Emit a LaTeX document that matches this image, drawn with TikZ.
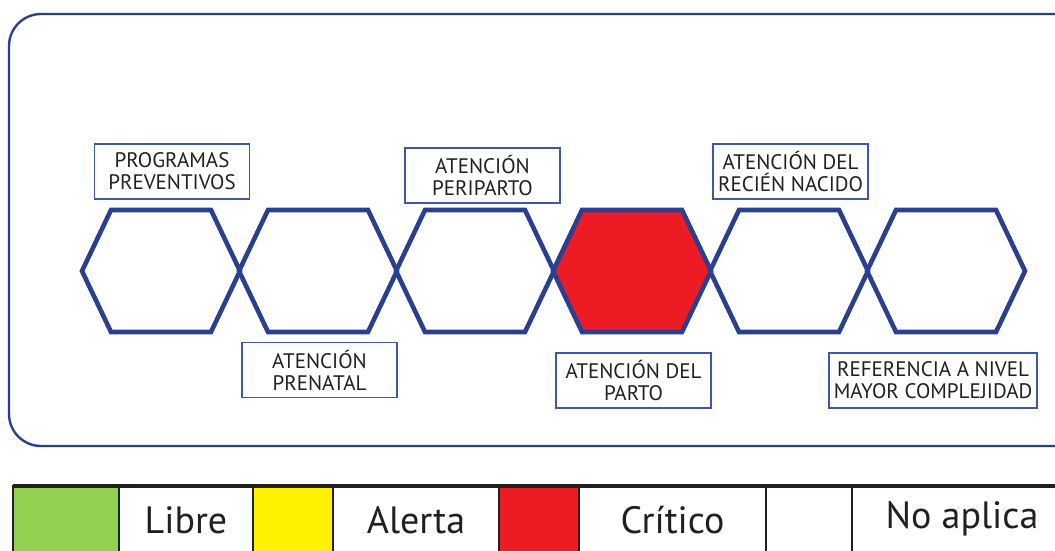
\documentclass[tikz,border=0pt]{standalone}
\usepackage{fontspec}
\setmainfont{PT Sans}
\usepackage{xcolor}
\usepackage{tikz}
\usetikzlibrary{positioning}

\definecolor{hexblue}{RGB}{42,63,143}
\definecolor{boxblue}{RGB}{62,88,168}
\definecolor{critred}{RGB}{237,28,36}
\definecolor{libregreen}{RGB}{146,208,80}
\definecolor{alertyellow}{RGB}{255,242,0}
\definecolor{inkgray}{RGB}{35,31,32}

\begin{document}
\begin{tikzpicture}[
  x=0.5pt, y=-0.5pt,
  frame/.style={draw=hexblue, line width=1.2pt, rounded corners=16pt},
  hexa/.style={draw=hexblue, line width=2.3pt, line join=miter},
  lbl/.style={rectangle, draw=boxblue, line width=0.6pt, minimum width=77.5pt, minimum height=27.5pt, inner sep=0pt, align=center, text=inkgray, font=\fontsize{10.5}{11}\selectfont},
  cell/.style={rectangle, draw=inkgray, line width=0.8pt, inner sep=0pt, outer sep=0pt, text height=23.5pt, text depth=16.5pt, text=inkgray, font=\fontsize{19}{20}\selectfont}
]
\useasboundingbox (0,0) rectangle (1055,551);
\clip (0,0) rectangle (1055,551);

% Outer panel
\draw[frame] (9,14) rectangle (1090,446);

% Hexagon chain (the fourth one is critical)
\fill[critred] (632-79,271) -- (632-50,210) -- (632+50,210) -- (632+79,271) -- (632+50,332) -- (632-50,332) -- cycle;
\foreach \c in {161,318,475,632,789,946} {
  \draw[hexa] (\c-79,271) -- (\c-50,210) -- (\c+50,210) -- (\c+79,271) -- (\c+50,332) -- (\c-50,332) -- cycle;
}

% Stage labels
\node[lbl] (prog) at (172,171.5) {PROGRAMAS\\PREVENTIVOS};
\node[lbl] (prenatal) at (319.5,370) {ATENCIÓN\\PRENATAL};
\node[lbl] (peri) at (482.5,175.5) {ATENCIÓN\\PERIPARTO};
\node[lbl] (parto) at (633.5,380.5) {ATENCIÓN DEL\\PARTO};
\node[lbl] (recien) at (790.5,171.5) {ATENCIÓN DEL\\RECIÉN NACIDO};
\node[lbl, minimum width=104pt] (ref) at (933,380.5) {REFERENCIA A NIVEL\\MAYOR COMPLEJIDAD};

% Legend
\node[cell, fill=libregreen, minimum width=53pt, anchor=north west] (green) at (13,486) {};
\node[cell, minimum width=67pt, right=0pt of green] (libre) {Libre};
\node[cell, fill=alertyellow, minimum width=40pt, right=0pt of libre] (yellow) {};
\node[cell, minimum width=83pt, right=0pt of yellow] (alerta) {Alerta};
\node[cell, fill=critred, minimum width=40pt, right=0pt of alerta] (red) {};
\node[cell, minimum width=93.5pt, right=0pt of red] (critico) {Crítico};
\node[cell, minimum width=43pt, right=0pt of critico] (blank) {};
\node[cell, minimum width=110pt, text height=21pt, text depth=19pt, right=0pt of blank] (noap) {No aplica};
\draw[inkgray, line width=1.6pt] (green.north west) -- (noap.north east);

\end{tikzpicture}
\end{document}
